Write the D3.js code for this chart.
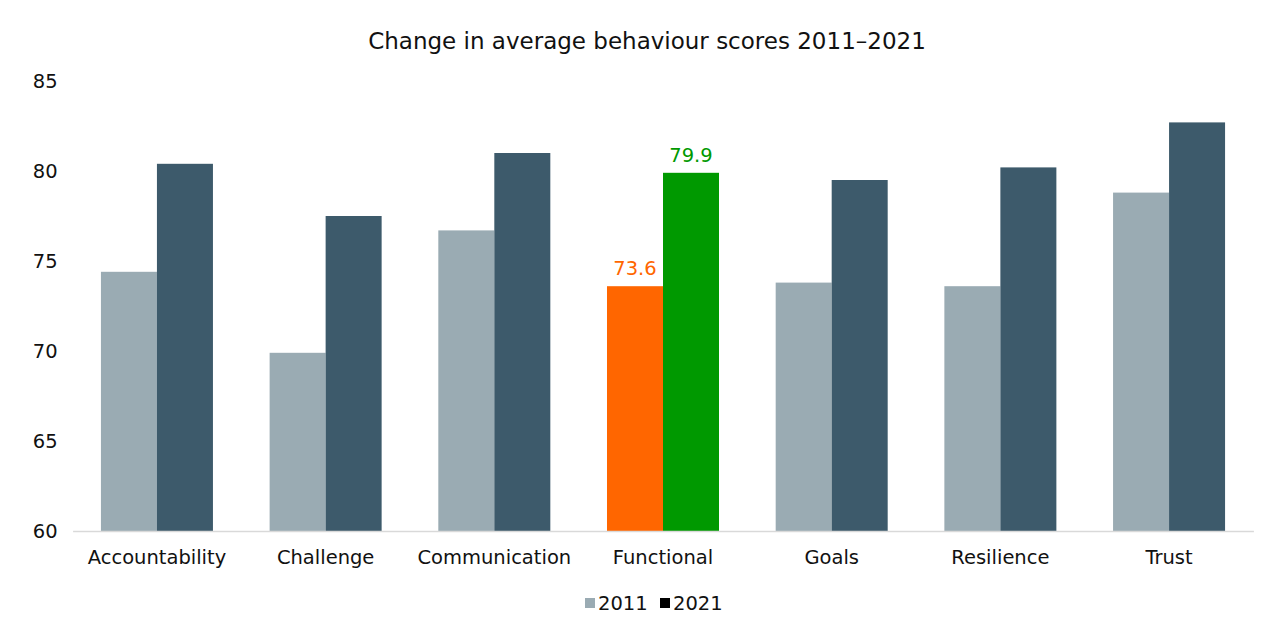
<!DOCTYPE html>
<html>
<head>
<meta charset="utf-8">
<script src="https://cdn.jsdelivr.net/npm/d3@7"></script>
<style>
  html, body { margin: 0; padding: 0; background: #fff; }
  svg { display: block; }
  text { font-family: "DejaVu Sans", sans-serif; fill: #111; }
</style>
</head>
<body>
<svg id="chart" width="1280" height="634"></svg>
<script>
const categories = ["Accountability", "Challenge", "Communication", "Functional", "Goals", "Resilience", "Trust"];
const series = ["2011", "2021"];
const values2011 = [74.4, 69.9, 76.7, 73.6, 73.8, 73.6, 78.8];
const values2021 = [80.4, 77.5, 81.0, 79.9, 79.5, 80.2, 82.7];
const yTicks = [60, 65, 70, 75, 80, 85];
const highlightCategory = "Functional";
const title = "Change in average behaviour scores 2011\u20132021";

const colors = { "2011": "#9aabb3", "2021": "#3d5a6b" };
const highlightColors = { "2011": "#ff6600", "2021": "#009900" };
const legendColors = { "2011": "#9aabb3", "2021": "#000000" };

const FONT = "'DejaVu Sans', sans-serif";
const svg = d3.select("#chart");
const margin = { left: 72.6, right: 1280 - 1253.4 };
const width = 1280;

const x = d3.scaleBand().domain(categories).range([margin.left, width - margin.right]).paddingInner(0.336).paddingOuter(0.168);
const xs = d3.scaleBand().domain(series).range([0, x.bandwidth()]);
const y = d3.scaleLinear().domain([60, 85]).range([531, 81]);

const data = categories.map((c, i) => ({ cat: c, vals: [{ s: "2011", v: values2011[i] }, { s: "2021", v: values2021[i] }] }));

// title
svg.append("text").attr("x", 647).attr("y", 49).attr("text-anchor", "middle")
  .style("font-size", "23px").text(title);

// y axis labels
const yAxis = d3.axisLeft(y).tickValues(yTicks).tickSize(0).tickPadding(15).tickFormat(d3.format("d"));
const yg = svg.append("g").attr("transform", `translate(${margin.left},0)`).call(yAxis);
yg.select(".domain").remove();
yg.selectAll("text").style("font-size", "19.5px").style("font-family", FONT).attr("fill", "#111");

// bars
const g = svg.append("g");
const groups = g.selectAll("g.cat").data(data).join("g").attr("class", "cat")
  .attr("transform", d => `translate(${x(d.cat)},0)`);
groups.selectAll("rect").data(d => d.vals.map(v => ({ ...v, cat: d.cat }))).join("rect")
  .attr("x", d => xs(d.s))
  .attr("width", xs.bandwidth())
  .attr("y", d => y(d.v))
  .attr("height", d => y(60) - y(d.v))
  .attr("fill", d => d.cat === highlightCategory ? highlightColors[d.s] : colors[d.s]);

// highlight labels
groups.filter(d => d.cat === highlightCategory).selectAll("text.lbl")
  .data(d => d.vals).join("text").attr("class", "lbl")
  .attr("x", d => xs(d.s) + xs.bandwidth() / 2)
  .attr("y", d => y(d.v) - 11)
  .attr("text-anchor", "middle")
  .style("font-size", "19.5px")
  .style("fill", d => highlightColors[d.s])
  .text(d => d3.format(".1f")(d.v));

// x axis
const xAxis = d3.axisBottom(x).tickSize(0).tickPadding(19);
const xg = svg.append("g").attr("transform", `translate(0,531)`).call(xAxis);
xg.select(".domain").attr("stroke", "#d9d9d9").attr("stroke-width", 1.5);
xg.selectAll("text").style("font-size", "19.5px").style("font-family", FONT).attr("fill", "#111");

// legend
const legend = svg.append("g").attr("transform", "translate(585,603)");
const items = [{ s: "2011", x: 0 }, { s: "2021", x: 75 }];
items.forEach(it => {
  legend.append("rect").attr("x", it.x).attr("y", -5).attr("width", 10).attr("height", 10).attr("fill", legendColors[it.s]);
  legend.append("text").attr("x", it.x + 13).attr("y", 0).attr("dy", "0.35em").style("font-size", "19.5px").text(it.s);
});
</script>
</body>
</html>
